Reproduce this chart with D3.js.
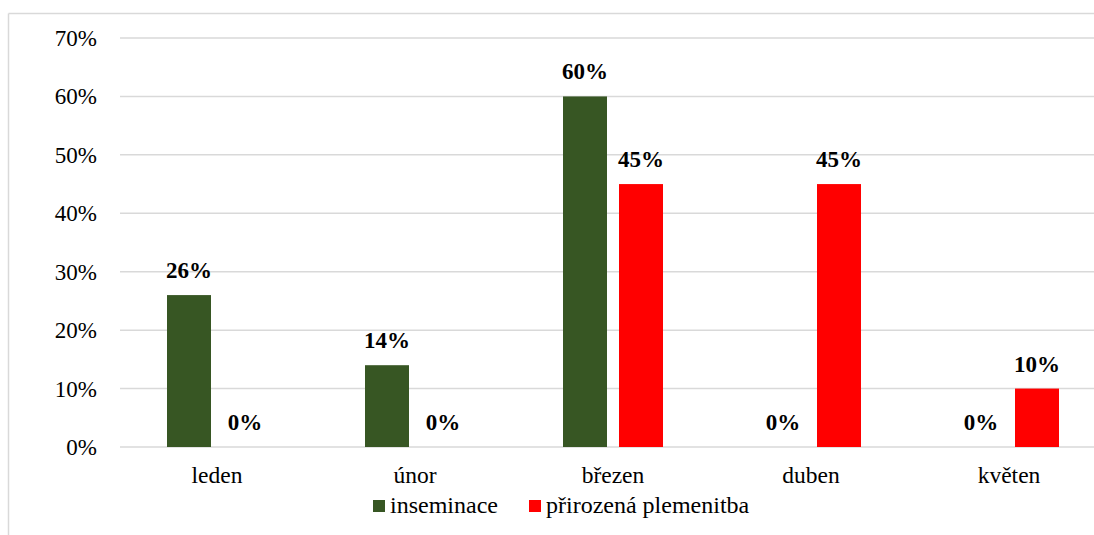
<!DOCTYPE html>
<html>
<head>
<meta charset="utf-8">
<script src="https://cdn.jsdelivr.net/npm/d3@7"></script>
</head>
<body style="margin:0">
<svg id="chart" width="1094" height="535"></svg>
<script>
const categories = ["leden", "únor", "březen", "duben", "květen"];
const seriesNames = ["inseminace", "přirozená plemenitba"];
const inseminace = [0.26, 0.14, 0.60, 0, 0];
const prirozena = [0, 0, 0.45, 0.45, 0.10];
const yTicks = [0, 0.1, 0.2, 0.3, 0.4, 0.5, 0.6, 0.7];
const colors = ["#375623", "#ff0000"];

const svg = d3.select("#chart").attr("font-family", "Liberation Serif");
const W = 1094, H = 535;
const FONT = "Liberation Serif";

// outer chart border (cropped on right/bottom)
svg.append("line").attr("x1", 8.5).attr("x2", 8.5).attr("y1", 13.5).attr("y2", H)
  .attr("stroke", "#d9d9d9").attr("stroke-width", 1.5);
svg.append("line").attr("x1", 8.5).attr("x2", W).attr("y1", 13.5).attr("y2", 13.5)
  .attr("stroke", "#d9d9d9").attr("stroke-width", 1.5);

const x0 = d3.scaleBand().domain(categories).range([118, 1108]).padding(0);
const x1 = d3.scaleBand().domain(seriesNames)
  .range([x0.bandwidth() / 2 - 50, x0.bandwidth() / 2 + 50])
  .paddingInner(12 / 56).paddingOuter(0);
const y = d3.scaleLinear().domain([0, 0.7]).range([447, 38]);

// gridlines
svg.append("g").selectAll("line").data(yTicks).join("line")
  .attr("x1", 120).attr("x2", 1108)
  .attr("y1", d => y(d)).attr("y2", d => y(d))
  .attr("stroke", "#d9d9d9").attr("stroke-width", 1.5);

// y axis labels
const gy = svg.append("g");
gy.selectAll("text").data(yTicks).join("text")
  .attr("x", 97).attr("y", d => y(d) + 8)
  .attr("text-anchor", "end")
  .attr("font-family", FONT).attr("font-size", 23).attr("fill", "#000")
  .text(d => d3.format(".0%")(d));

// x axis labels
const gx = svg.append("g");
gx.selectAll("text").data(categories).join("text")
  .attr("x", d => x0(d) + x0.bandwidth() / 2).attr("y", 483)
  .attr("text-anchor", "middle")
  .attr("font-family", FONT).attr("font-size", 23.5).attr("fill", "#000")
  .text(d => d);

const data = categories.map((c, i) => ({ cat: c, vals: [
  { s: seriesNames[0], v: inseminace[i], c: colors[0] },
  { s: seriesNames[1], v: prirozena[i], c: colors[1] }
]}));

const groups = svg.append("g").selectAll("g").data(data).join("g")
  .attr("transform", d => `translate(${x0(d.cat)},0)`);

groups.selectAll("rect").data(d => d.vals).join("rect")
  .attr("x", d => x1(d.s)).attr("width", x1.bandwidth())
  .attr("y", d => y(d.v)).attr("height", d => y(0) - y(d.v))
  .attr("fill", d => d.c);

groups.selectAll("text.lbl").data(d => d.vals).join("text").attr("class", "lbl")
  .attr("x", d => x1(d.s) + x1.bandwidth() / 2)
  .attr("y", d => y(d.v) - 17)
  .attr("text-anchor", "middle")
  .attr("font-family", FONT)
  .attr("font-size", 23).attr("font-weight", "bold").attr("fill", "#000")
  .text(d => d3.format(".0%")(d.v));

// legend
const legend = svg.append("g");
const legX = [373, 529];
seriesNames.forEach((s, i) => {
  legend.append("rect").attr("x", legX[i]).attr("y", 500).attr("width", 12).attr("height", 12).attr("fill", colors[i]);
  legend.append("text").attr("x", legX[i] + 17).attr("y", 513)
    .attr("font-family", FONT).attr("font-size", 24).attr("fill", "#000").text(s);
});
</script>
</body>
</html>
